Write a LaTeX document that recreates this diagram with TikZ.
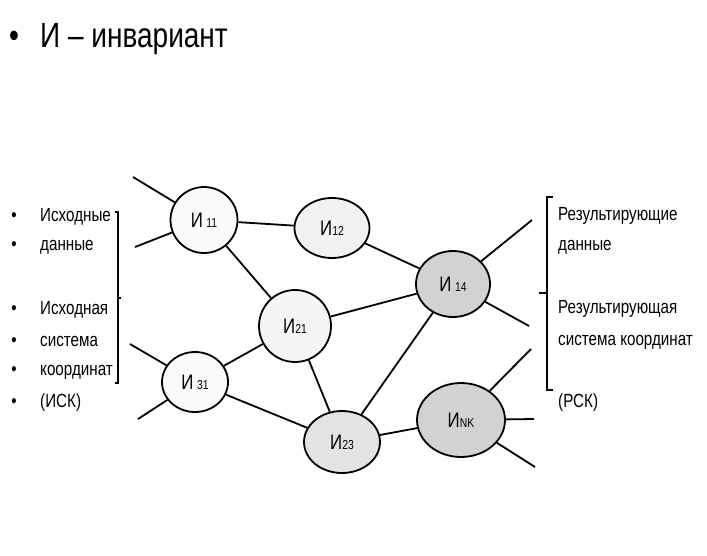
\documentclass[tikz,border=0pt]{standalone}
\usepackage{fontspec}
\setmainfont[FakeStretch=0.8]{Liberation Sans}
\usetikzlibrary{shapes.geometric}
\newcommand{\inv}[1]{И\,{\fontsize{13}{13}\selectfont #1}}
\newcommand{\invt}[1]{И{\fontsize{13}{13}\selectfont #1}}
\begin{document}
\begin{tikzpicture}[x=1pt,y=-1pt,
    invnode/.style={draw,ellipse,line width=1.8pt,inner sep=0pt,font=\fontsize{21}{21}\selectfont},
    item/.style={anchor=base west,inner sep=0pt,font=\fontsize{19}{19}\selectfont},
    dot/.style={anchor=base,inner sep=0pt,font=\fontsize{19}{19}\selectfont},
    wire/.style={line width=1.8pt}]
      \useasboundingbox[fill=white] (0,0) rectangle (707,555);

      % title
      \node [anchor=base,inner sep=0pt,font=\fontsize{35}{35}\selectfont] (tdot) at (14,47) {•};
      \node [anchor=base west,inner sep=0pt,font=\fontsize{35}{35}\selectfont] (title) at (40,47) {И – инвариант};

      % invariants
      \node [invnode,minimum width=67pt,minimum height=66pt,fill=gray!4] (i11) at (204,220) {\inv{11}};
      \node [invnode,minimum width=75pt,minimum height=60pt,fill=gray!10] (i12) at (332,228) {\invt{12}};
      \node [invnode,minimum width=74pt,minimum height=66pt,fill=gray!35] (i14) at (453,284) {\inv{14}};
      \node [invnode,minimum width=72pt,minimum height=72pt,fill=gray!8] (i21) at (295,326) {\invt{21}};
      \node [invnode,minimum width=66pt,minimum height=60pt,fill=gray!4] (i31) at (195,382) {\inv{31}};
      \node [invnode,minimum width=76pt,minimum height=62pt,fill=gray!22] (i23) at (342,442) {\invt{23}};
      \node [invnode,minimum width=88pt,minimum height=74pt,fill=gray!35] (ink) at (461,420) {\invt{NK}};

      % free ends
      \coordinate (a1) at (133,177);
      \coordinate (a2) at (135,247);
      \coordinate (a3) at (130,344);
      \coordinate (a4) at (138,419);
      \coordinate (b1) at (532,220);
      \coordinate (b2) at (529,326);
      \coordinate (b3) at (531,349);
      \coordinate (b4) at (534,419);
      \coordinate (b5) at (535,467);

      \draw[wire] (a1) -- (i11);
      \draw[wire] (a2) -- (i11);
      \draw[wire] (a3) -- (i31);
      \draw[wire] (a4) -- (i31);
      \draw[wire] (i11) -- (i12);
      \draw[wire] (i11) -- (i21);
      \draw[wire] (i12) -- (i14);
      \draw[wire] (i21) -- (i14);
      \draw[wire] (i21) -- (i31);
      \draw[wire] (i21) -- (i23);
      \draw[wire] (i31) -- (i23);
      \draw[wire] (i23) -- (i14);
      \draw[wire] (i23) -- (ink);
      \draw[wire] (i14) -- (b1);
      \draw[wire] (i14) -- (b2);
      \draw[wire] (ink) -- (b3);
      \draw[wire] (ink) -- (b4);
      \draw[wire] (ink) -- (b5);

      % input list
      \foreach \y/\t [count=\k] in {221/Исходные,250/данные,314/Исходная,346/система,375/координат,407/(ИСК)} {
        \node [dot] (ld\k) at (14,\y) {•};
        \node [item] (lt\k) at (40,\y) {\t};
      }
      \draw[line width=1.2pt] (115,212) -- (118,212) -- (118,383) -- (115,383);
      \draw[line width=1.2pt] (118,298) -- (121,298);

      % output list
      \node [item] (r1) at (558,220) {Результирующие};
      \node [item] (r2) at (558,250) {данные};
      \node [item] (r3) at (558,313) {Результирующая};
      \node [item] (r4) at (558,345) {система координат};
      \node [item] (r5) at (558,407) {(РСК)};
      \draw[line width=1.2pt] (553,197) -- (547,197) -- (547,390) -- (553,390);
      \draw[line width=1.2pt] (547,293) -- (539,293);
\end{tikzpicture}
\end{document}
